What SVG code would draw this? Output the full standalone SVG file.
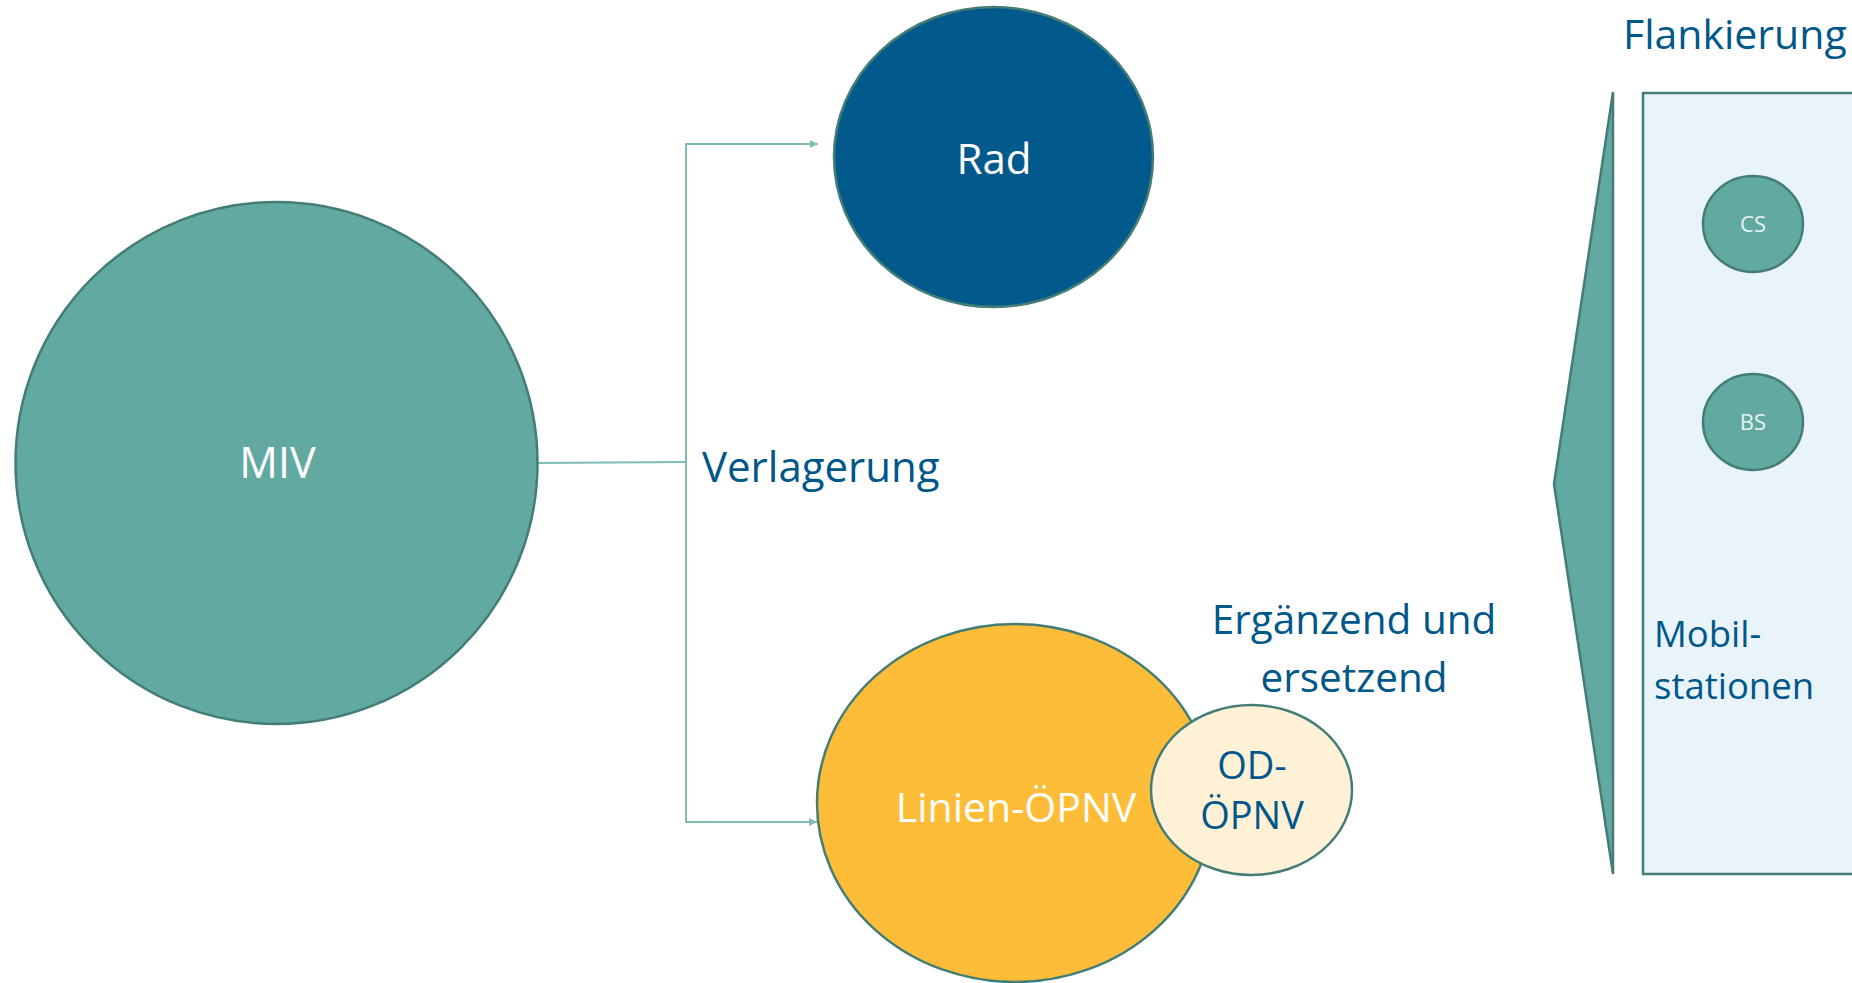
<svg xmlns="http://www.w3.org/2000/svg" width="1852" height="983" viewBox="0 0 1852 983">
<defs>
<style>
.t{font-family:"Open Sans","Noto Sans","Liberation Sans",sans-serif;}
.w{fill:#ffffff;}
.b{fill:#00578a;}
.node{stroke:#437d76;stroke-width:2.5;}
.conn{fill:none;stroke:#7dbdb4;stroke-width:2;}
</style>
<marker id="arr" viewBox="0 0 10 10" refX="10" refY="5" markerWidth="4" markerHeight="4" orient="auto" markerUnits="strokeWidth">
<path d="M0,0 L10,5 L0,10 Z" fill="#7dbdb4"/>
</marker>
</defs>
<rect width="1852" height="983" fill="#ffffff"/>
<g id="connectors">
<path class="conn" d="M537,463 L686,462"/>
<path class="conn" d="M686,462 V144 H818" marker-end="url(#arr)"/>
<path class="conn" d="M686,462 V822 H817" marker-end="url(#arr)"/>
</g>
<g id="miv">
<circle class="node" cx="276.5" cy="463" r="261" fill="#62a9a2"/>
<text class="t w" x="277.5" y="478" font-size="43" text-anchor="middle">MIV</text>
</g>
<g id="rad">
<ellipse class="node" cx="993.5" cy="157" rx="159.5" ry="150" fill="#025a8c"/>
<text class="t w" x="994" y="174" font-size="42" text-anchor="middle">Rad</text>
</g>
<g id="verlagerung">
<text class="t b" x="702" y="482" font-size="42">Verlagerung</text>
</g>
<g id="linien">
<ellipse class="node" cx="1015" cy="803" rx="198" ry="179" fill="#fdbd38"/>
<text class="t w" x="1016" y="822" font-size="41" text-anchor="middle">Linien-ÖPNV</text>
</g>
<g id="od">
<ellipse class="node" cx="1251.5" cy="790" rx="100.5" ry="85" fill="#fff1d6"/>
<text class="t b" x="1252" y="779" font-size="38" text-anchor="middle">OD-</text>
<text class="t b" x="1252" y="829" font-size="38" text-anchor="middle">ÖPNV</text>
</g>
<g id="ergaenzend">
<text class="t b" x="1354" y="634" font-size="40.5" text-anchor="middle">Ergänzend und</text>
<text class="t b" x="1354" y="692" font-size="40.5" text-anchor="middle">ersetzend</text>
</g>
<g id="flankierung">
<text class="t b" x="1623" y="49" font-size="41">Flankierung</text>
</g>
<g id="triangle">
<polygon points="1613,92 1554,484 1613,874" fill="#62a9a2" stroke="#437d76" stroke-width="2.5" stroke-linejoin="miter"/>
</g>
<g id="mobilstationen">
<rect class="node" x="1643" y="93" width="230" height="781" fill="#e9f4fa"/>
<text class="t b" x="1654" y="647" font-size="36.5">Mobil-</text>
<text class="t b" x="1654" y="699" font-size="36.5">stationen</text>
</g>
<g id="cs">
<ellipse class="node" cx="1753" cy="224" rx="50" ry="48" fill="#62a9a2"/>
<text class="t" x="1753" y="232" font-size="22" text-anchor="middle" fill="#e8f2f1">CS</text>
</g>
<g id="bs">
<ellipse class="node" cx="1753" cy="422" rx="50" ry="48" fill="#62a9a2"/>
<text class="t" x="1753" y="430" font-size="22" text-anchor="middle" fill="#e8f2f1">BS</text>
</g>
</svg>
